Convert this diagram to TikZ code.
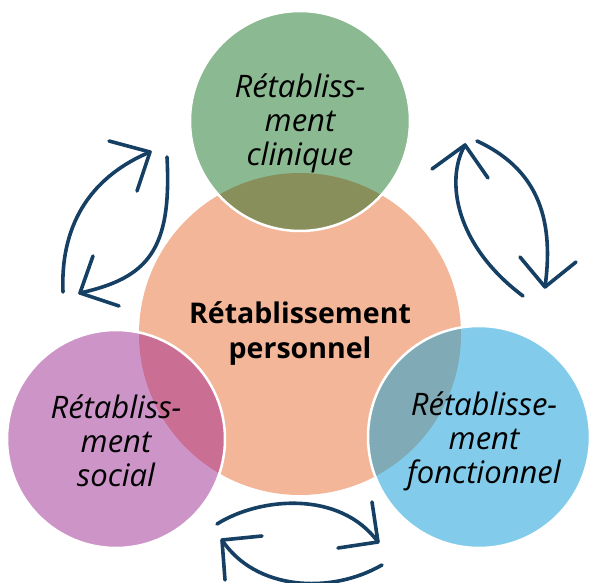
\documentclass[tikz,border=0pt]{standalone}
\usepackage{fontspec}
\setmainfont{Open Sans}
\definecolor{clinGreen}{HTML}{8BB991}
\definecolor{persOrange}{HTML}{F3B698}
\definecolor{socPurple}{HTML}{CD94C8}
\definecolor{foncBlue}{HTML}{82CBEA}
\definecolor{olive}{HTML}{898F5B}
\definecolor{rose}{HTML}{CA6E94}
\definecolor{slate}{HTML}{7FAAB6}
\definecolor{navy}{HTML}{163F64}
\begin{document}
\begin{tikzpicture}[x=1pt,y=-1pt,
  outerline/.style={white,line width=2.5pt},
  cyclearc/.style={navy,line width=3.6pt,line cap=round,line join=round},
  satlabel/.style={align=center,font=\fontsize{31}{34}\selectfont\itshape},
  corelabel/.style={align=center,font=\fontsize{28.5}{35}\selectfont\bfseries}]
\useasboundingbox (0,0) rectangle (598,583);

% centres and radii
\coordinate (cP) at (300,334); \def\rP{161}
\coordinate (cC) at (300,121); \def\rC{110}
\coordinate (cS) at (116,439); \def\rS{109}
\coordinate (cF) at (479,437); \def\rF{111}

% central disc
\fill[persOrange] (cP) circle (\rP);

% satellite discs, with the part lying over the central disc tinted
\fill[clinGreen] (cC) circle (\rC);
\begin{scope}\clip (cC) circle (\rC); \fill[olive] (cP) circle (\rP); \end{scope}
\draw[outerline] (cC) circle (\rC);

\fill[socPurple] (cS) circle (\rS);
\begin{scope}\clip (cS) circle (\rS); \fill[rose] (cP) circle (\rP); \end{scope}
\draw[outerline] (cS) circle (\rS);

\fill[foncBlue] (cF) circle (\rF);
\begin{scope}\clip (cF) circle (\rF); \fill[slate] (cP) circle (\rP); \end{scope}
\draw[outerline] (cF) circle (\rF);

% labels
\node[corelabel] (perso) at (300,334) {Rétablissement\\personnel};
\node[satlabel] (clin) at (300,123) {Rétabliss-\\ment\\clinique};
\node[satlabel] (soc) at (116,441) {Rétabliss-\\ment\\social};
\node[satlabel] (fonc) at (484,441) {Rétablisse-\\ment\\fonctionnel};

% left pair of cycle arrows
\coordinate (aS) at (63,292);  \coordinate (aT) at (150,152);
\coordinate (bS) at (167,157); \coordinate (bT) at (80,293);
\draw[cyclearc] (aS) .. controls (60,220) and (95,175) .. (aT);
\draw[cyclearc] (109,141) -- (aT) -- (137,191);
\draw[cyclearc] (bS) .. controls (172,250) and (148,278) .. (bT);
\draw[cyclearc] (93,256) -- (bT) -- (119,306);

% right pair
\coordinate (cS1) at (523,296); \coordinate (cT1) at (465,145);
\coordinate (dS) at (477,141);  \coordinate (dT) at (545,287);
\draw[cyclearc] (cS1) .. controls (455,245) and (445,180) .. (cT1);
\draw[cyclearc] (432,169) -- (cT1) -- (488,178);
\draw[cyclearc] (dS) .. controls (535,168) and (555,215) .. (dT);
\draw[cyclearc] (520,257) -- (dT) -- (576,262);

% bottom pair
\coordinate (eS) at (217,524); \coordinate (eT) at (378,542);
\coordinate (fS) at (382,565); \coordinate (fT) at (222,540);
\draw[cyclearc] (eS) .. controls (260,497) and (340,490) .. (eT);
\draw[cyclearc] (372,502) -- (eT) -- (338,548);
\draw[cyclearc] (fS) .. controls (330,595) and (255,590) .. (fT);
\draw[cyclearc] (262,536) -- (fT) -- (225,580);
\end{tikzpicture}
\end{document}
